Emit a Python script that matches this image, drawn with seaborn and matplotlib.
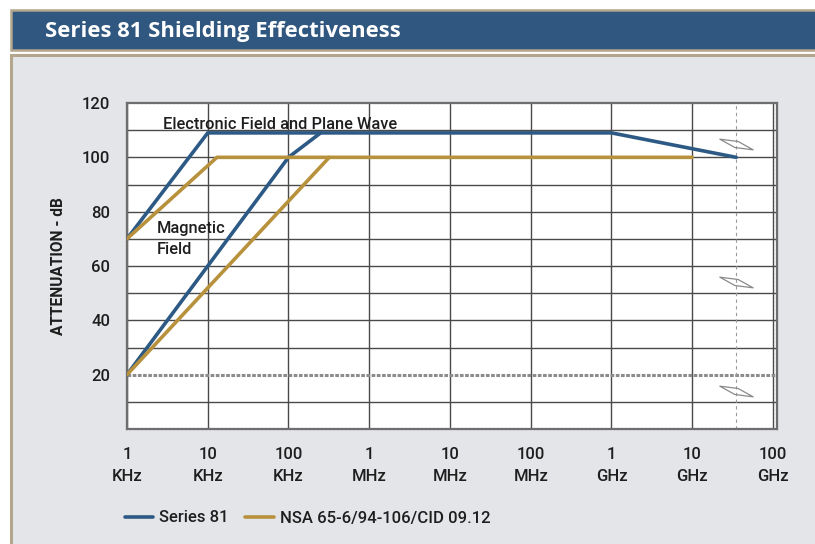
import numpy as np
import pandas as pd
import seaborn as sns
import matplotlib
matplotlib.use("Agg")
import matplotlib.pyplot as plt
from matplotlib.patches import Rectangle
from matplotlib.path import Path
from matplotlib import font_manager

# ---- data -------------------------------------------------------------
series81_elec_hz = [1e3, 1e4, 1e9, 35e9]
series81_elec_db = [70, 109, 109, 100]
series81_mag_hz = [1e3, 1e4, 1e5, 2.5e5]
series81_mag_db = [20, 60, 100, 109]

nsa_elec_hz = [1e3, 1.3e4, 1e10]
nsa_elec_db = [70, 100, 100]
nsa_mag_hz = [1e3, 3.2e5]
nsa_mag_db = [20, 100]

series_names = ["Series 81", "NSA 65-6/94-106/CID 09.12"]
x_tick_hz = [1e3, 1e4, 1e5, 1e6, 1e7, 1e8, 1e9, 1e10, 1e11]
x_tick_labels = ["1\nKHz", "10\nKHz", "100\nKHz", "1\nMHz", "10\nMHz",
                 "100\nMHz", "1\nGHz", "10\nGHz", "100\nGHz"]
y_tick_db = [20, 40, 60, 80, 100, 120]
break_hz = 35e9
break_db = [105, 54, 14]

# ---- styling ----------------------------------------------------------
sns.set_theme(style="white")
available = {f.name for f in font_manager.fontManager.ttflist}
families = [f for f in ["Liberation Sans Narrow", "Roboto", "DejaVu Sans"]
            if f in available]
plt.rcParams["font.family"] = families + ["DejaVu Sans"]

BLUE = "#2d5985"
GOLD = "#b8913d"
PANEL = "#e4e5e9"
BANNER = "#2f5780"
TAN = "#b3a68c"
GRID = "#4a4a4a"
TEXT = "#1e1e1e"
WEIGHT = "medium"

W, H = 815, 544
fig = plt.figure(figsize=(W / 100, H / 100), dpi=100, facecolor="white")

# header banner and panel background
fig.patches.append(Rectangle((11 / W, 1 - 50 / H), 1.0, 40 / H,
                             transform=fig.transFigure, facecolor=BANNER,
                             edgecolor=TAN, linewidth=1.8, zorder=-2))
fig.patches.append(Rectangle((11 / W, -0.05), 1.0, 1 - 55 / H + 0.05,
                             transform=fig.transFigure, facecolor=PANEL,
                             edgecolor=TAN, linewidth=2.2, zorder=-2))
fig.text(45 / W, 1 - 31 / H, "Series 81 Shielding Effectiveness",
         color="white", fontsize=15.8, fontweight="bold", va="center",
         ha="left", family=["Open Sans", "DejaVu Sans"])

ax = fig.add_axes([127 / W, 1 - 429 / H, 650 / W, 326 / H])
ax.set_zorder(2)
ax.set_facecolor("white")

rows = []
for name, branch, fx, dbs in [
    (series_names[0], "s81_e", series81_elec_hz, series81_elec_db),
    (series_names[0], "s81_m", series81_mag_hz, series81_mag_db),
    (series_names[1], "nsa_e", nsa_elec_hz, nsa_elec_db),
    (series_names[1], "nsa_m", nsa_mag_hz, nsa_mag_db),
]:
    for f, d in zip(fx, dbs):
        rows.append({"freq": f, "db": d, "series": name, "branch": branch})
df = pd.DataFrame(rows)

ax.set_xscale("log")
ax.set_xlim(1e3, 1e3 * 10 ** 8.05)
ax.set_ylim(0, 120)

# grid
for gx in x_tick_hz:
    ax.axvline(gx, color=GRID, lw=1.0, zorder=1)
for gy in range(10, 120, 10):
    if gy == 20:
        ax.axhline(gy, color="#8c8c8c", lw=2.2, ls=(0, (1.2, 0.5)), zorder=1)
    else:
        ax.axhline(gy, color=GRID, lw=1.0, zorder=1)
ax.axvline(break_hz, color="#9a9a9a", lw=0.8, ls=(0, (3, 3)), zorder=1)

sns.lineplot(data=df, x="freq", y="db", hue="series", units="branch",
             estimator=None, sort=False, palette=[BLUE, GOLD],
             hue_order=series_names, lw=2.6, ax=ax, legend=False, zorder=3)

# axis break symbols
brk = Path([(-1, 0.32), (0.1, 0.18), (1, -0.32), (-0.1, -0.18), (-1, 0.32)],
           [Path.MOVETO, Path.LINETO, Path.LINETO, Path.LINETO, Path.CLOSEPOLY])
ax.plot([break_hz] * len(break_db), break_db, ls="none", marker=brk,
        markersize=24, markerfacecolor="none", markeredgecolor="#8a8a8a",
        markeredgewidth=0.9, zorder=2)

for s in ax.spines.values():
    s.set_color("#6e6e6e")
    s.set_linewidth(1.6)
    s.set_linestyle((0, (1.2, 0.6)))

ax.set_xticks(x_tick_hz)
ax.set_xticklabels(x_tick_labels, fontsize=12, color=TEXT, linespacing=1.55,
                   fontweight=WEIGHT)
ax.xaxis.set_minor_locator(matplotlib.ticker.NullLocator())
ax.set_yticks(y_tick_db)
ax.set_yticklabels([str(v) for v in y_tick_db], fontsize=12, color=TEXT,
                   fontweight=WEIGHT)
ax.tick_params(axis="both", length=0)
ax.tick_params(axis="x", pad=13)
ax.tick_params(axis="y", pad=12)
ax.set_xlabel("")
ax.set_ylabel("ATTENUATION - dB", fontsize=11.2, fontweight="bold",
              color=TEXT)
ax.yaxis.set_label_coords(-0.094, 0.5)

ax.text(2.8e3, 112, "Electronic Field and Plane Wave", fontsize=11.8,
        color=TEXT, va="center", ha="left", zorder=4, fontweight=WEIGHT)
ax.text(2.35e3, 70, "Magnetic\nField", fontsize=11.8, color=TEXT,
        va="center", ha="left", linespacing=1.5, zorder=4, fontweight=WEIGHT)

# legend
handles = [plt.Line2D([], [], color=c, lw=2.6) for c in (BLUE, GOLD)]
leg = fig.legend(handles, series_names, loc="center left",
                 bbox_to_anchor=(125 / W, 1 - 518 / H), ncol=2, frameon=False,
                 fontsize=12, handlelength=1.7, handletextpad=0.35,
                 columnspacing=1.0, borderpad=0, borderaxespad=0,
                 labelcolor=TEXT)
for t in leg.get_texts():
    t.set_fontweight(WEIGHT)

fig.savefig("out.png", dpi=100, facecolor=fig.get_facecolor())
